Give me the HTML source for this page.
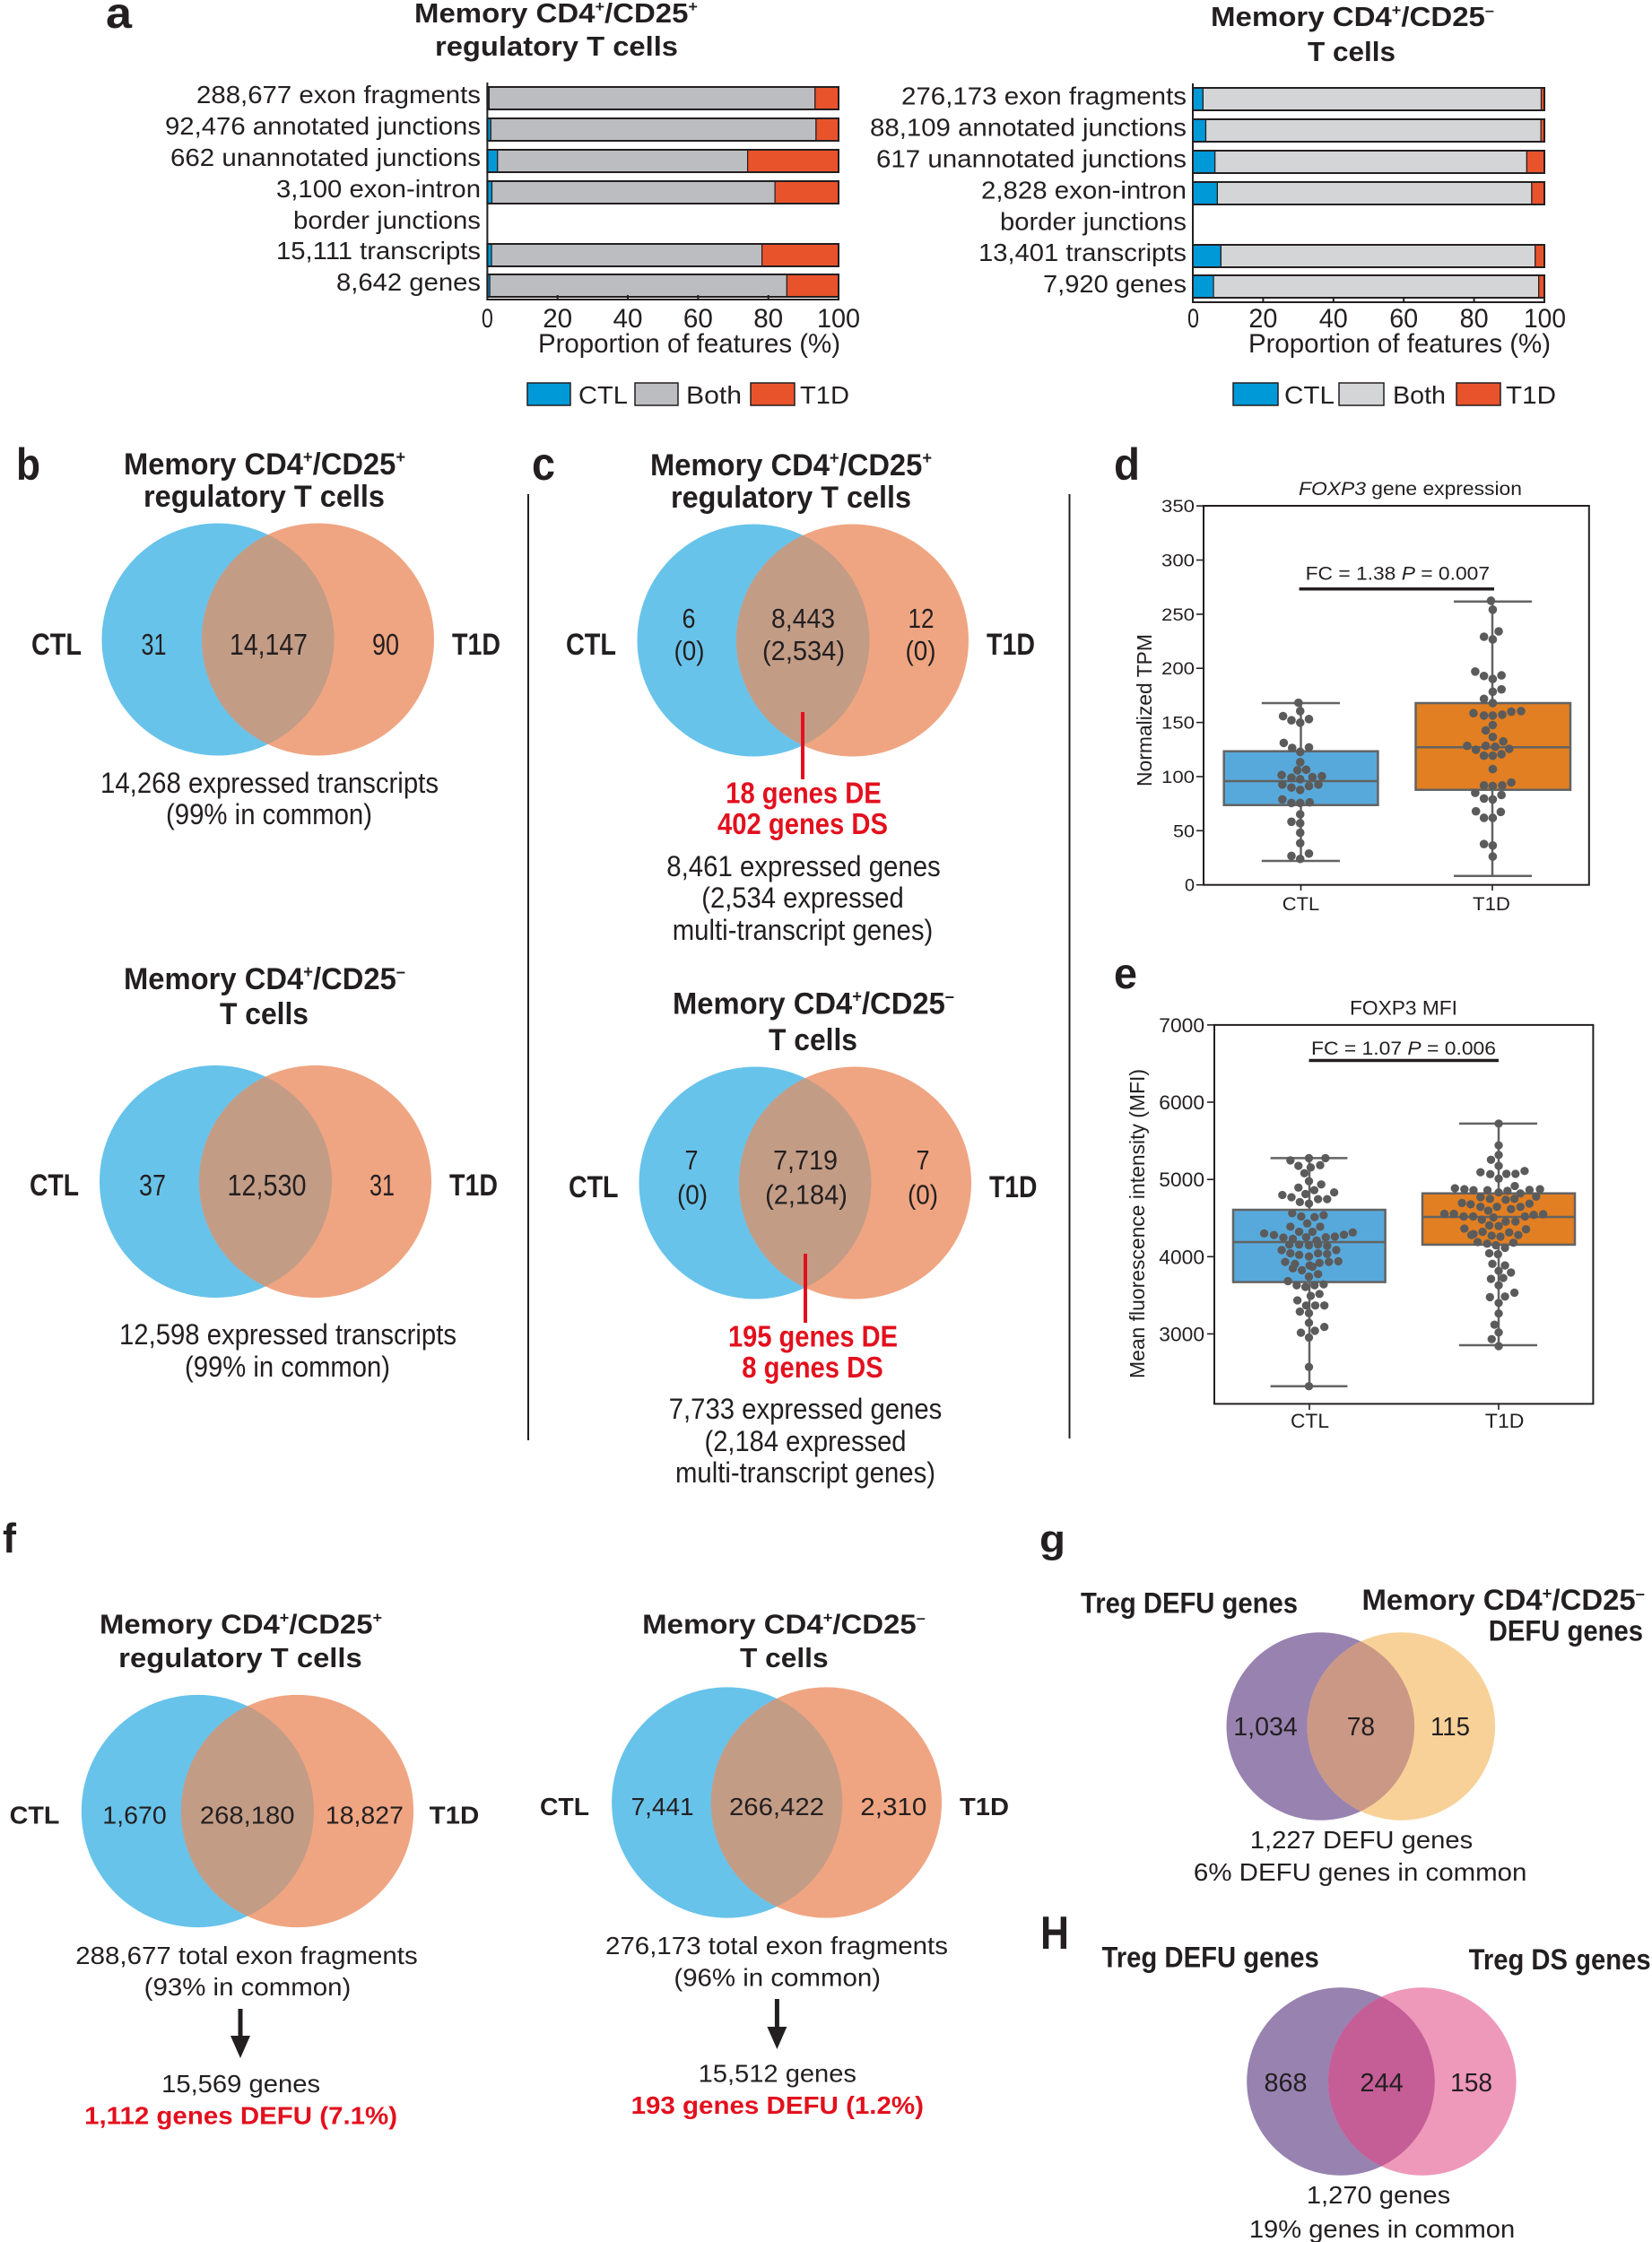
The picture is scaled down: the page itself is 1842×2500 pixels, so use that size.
<!DOCTYPE html>
<html><head><meta charset="utf-8"><style>
html,body{margin:0;padding:0;background:#fff;}
svg{display:block;}
text{font-family:"Liberation Sans",Arial,sans-serif;fill:#231F20;}
.b{font-weight:bold;}
.red{fill:#E3101E;font-weight:bold;}
</style></head><body>
<svg width="1842" height="2500" viewBox="0 0 1842 2500" xmlns="http://www.w3.org/2000/svg">
<rect width="1842" height="2500" fill="#fff"/>
<defs>
<clipPath id="cb1"><circle cx="243" cy="713" r="129.5"/></clipPath>
<clipPath id="cb2"><circle cx="240.5" cy="1317.5" r="129.5"/></clipPath>
<clipPath id="cc1"><circle cx="840" cy="714" r="129.5"/></clipPath>
<clipPath id="cc2"><circle cx="842" cy="1319" r="129.5"/></clipPath>
<clipPath id="cf1"><circle cx="220.4" cy="2019.5" r="129.6"/></clipPath>
<clipPath id="cf2"><circle cx="810.7" cy="2010" r="128.6"/></clipPath>
<clipPath id="cg"><circle cx="1472.3" cy="1925" r="104.8"/></clipPath>
<clipPath id="ch"><circle cx="1495" cy="2321" r="104.8"/></clipPath>
</defs>

<!-- ================= PANEL A ================= -->
<text class="b" x="118" y="31" font-size="48" textLength="29" lengthAdjust="spacingAndGlyphs">a</text>
<text class="b" x="620" y="25" text-anchor="middle" font-size="31" textLength="316" lengthAdjust="spacingAndGlyphs">Memory CD4<tspan font-size="17" dy="-12">+</tspan><tspan dy="12">/CD25</tspan><tspan font-size="17" dy="-12">+</tspan></text>
<text class="b" x="620.5" y="62" text-anchor="middle" font-size="31" textLength="271" lengthAdjust="spacingAndGlyphs">regulatory T cells</text>

<g font-size="28">
<text x="536" y="115" text-anchor="end" textLength="317" lengthAdjust="spacingAndGlyphs">288,677 exon fragments</text>
<text x="536" y="150" text-anchor="end" textLength="352" lengthAdjust="spacingAndGlyphs">92,476 annotated junctions</text>
<text x="536" y="185" text-anchor="end" textLength="346" lengthAdjust="spacingAndGlyphs">662 unannotated junctions</text>
<text x="536" y="220" text-anchor="end" textLength="228" lengthAdjust="spacingAndGlyphs">3,100 exon-intron</text>
<text x="536" y="255" text-anchor="end" textLength="209" lengthAdjust="spacingAndGlyphs">border junctions</text>
<text x="536" y="289" text-anchor="end" textLength="228" lengthAdjust="spacingAndGlyphs">15,111 transcripts</text>
<text x="536" y="324" text-anchor="end" textLength="161" lengthAdjust="spacingAndGlyphs">8,642 genes</text>
</g>

<!-- left bars -->
<g stroke="#231F20" stroke-width="1.2">
<rect x="543.4" y="97" width="1.8" height="25" fill="#0099D8"/><rect x="545.4" y="97" width="363.4" height="25" fill="#BCBDC0"/><rect x="908.8" y="97" width="26.2" height="25" fill="#E8532B"/>
<rect x="543.4" y="132" width="3.9" height="25" fill="#0099D8"/><rect x="547.3" y="132" width="362.6" height="25" fill="#BCBDC0"/><rect x="909.9" y="132" width="25.1" height="25" fill="#E8532B"/>
<rect x="543.4" y="167" width="11.4" height="25" fill="#0099D8"/><rect x="554.8" y="167" width="278.8" height="25" fill="#BCBDC0"/><rect x="833.6" y="167" width="101.4" height="25" fill="#E8532B"/>
<rect x="543.4" y="202" width="5.1" height="25" fill="#0099D8"/><rect x="548.5" y="202" width="315.6" height="25" fill="#BCBDC0"/><rect x="864.1" y="202" width="70.9" height="25" fill="#E8532B"/>
<rect x="543.4" y="272" width="4.7" height="25" fill="#0099D8"/><rect x="548.1" y="272" width="301.5" height="25" fill="#BCBDC0"/><rect x="849.6" y="272" width="85.4" height="25" fill="#E8532B"/>
<rect x="543.4" y="306" width="2.7" height="25" fill="#0099D8"/><rect x="546.1" y="306" width="331.3" height="25" fill="#BCBDC0"/><rect x="877.4" y="306" width="57.6" height="25" fill="#E8532B"/>
</g>
<g fill="none" stroke="#231F20" stroke-width="2">
<rect x="543.4" y="97" width="391.6" height="25"/><rect x="543.4" y="132" width="391.6" height="25"/><rect x="543.4" y="167" width="391.6" height="25"/><rect x="543.4" y="202" width="391.6" height="25"/><rect x="543.4" y="272" width="391.6" height="25"/><rect x="543.4" y="306" width="391.6" height="25"/>
<line x1="543.4" y1="92" x2="543.4" y2="335"/>
<line x1="542.4" y1="334" x2="936" y2="334"/>
<line x1="621.7" y1="334" x2="621.7" y2="329"/><line x1="700" y1="334" x2="700" y2="329"/><line x1="778.4" y1="334" x2="778.4" y2="329"/><line x1="856.7" y1="334" x2="856.7" y2="329"/><line x1="935" y1="334" x2="935" y2="329"/>
</g>
<g font-size="30" text-anchor="middle">
<text x="543.4" y="365" textLength="13" lengthAdjust="spacingAndGlyphs">0</text>
<text x="621.7" y="365" textLength="33" lengthAdjust="spacingAndGlyphs">20</text>
<text x="700" y="365" textLength="33" lengthAdjust="spacingAndGlyphs">40</text>
<text x="778.4" y="365" textLength="33" lengthAdjust="spacingAndGlyphs">60</text>
<text x="856.7" y="365" textLength="33" lengthAdjust="spacingAndGlyphs">80</text>
<text x="935" y="365" textLength="48" lengthAdjust="spacingAndGlyphs">100</text>
<text x="768.5" y="393" textLength="337" lengthAdjust="spacingAndGlyphs">Proportion of features (%)</text>
</g>
<g stroke="#231F20" stroke-width="1.5">
<rect x="588" y="427" width="48" height="25" fill="#0099D8"/>
<rect x="708" y="427" width="48" height="25" fill="#BCBDC0"/>
<rect x="837" y="427" width="49" height="25" fill="#E8532B"/>
</g>
<g font-size="28">
<text x="645" y="450" textLength="55" lengthAdjust="spacingAndGlyphs">CTL</text>
<text x="765" y="450" textLength="62" lengthAdjust="spacingAndGlyphs">Both</text>
<text x="892" y="450" textLength="55" lengthAdjust="spacingAndGlyphs">T1D</text>
</g>

<!-- right panel a -->
<text class="b" x="1508" y="29" text-anchor="middle" font-size="31" textLength="316" lengthAdjust="spacingAndGlyphs">Memory CD4<tspan font-size="17" dy="-12">+</tspan><tspan dy="12">/CD25</tspan><tspan font-size="17" dy="-12">–</tspan></text>
<text class="b" x="1507" y="68" text-anchor="middle" font-size="31" textLength="98" lengthAdjust="spacingAndGlyphs">T cells</text>
<g font-size="28">
<text x="1323" y="116.5" text-anchor="end" textLength="318" lengthAdjust="spacingAndGlyphs">276,173 exon fragments</text>
<text x="1323" y="151.5" text-anchor="end" textLength="353" lengthAdjust="spacingAndGlyphs">88,109 annotated junctions</text>
<text x="1323" y="186.5" text-anchor="end" textLength="346" lengthAdjust="spacingAndGlyphs">617 unannotated junctions</text>
<text x="1323" y="221.5" text-anchor="end" textLength="229" lengthAdjust="spacingAndGlyphs">2,828 exon-intron</text>
<text x="1323" y="256.5" text-anchor="end" textLength="208" lengthAdjust="spacingAndGlyphs">border junctions</text>
<text x="1323" y="291" text-anchor="end" textLength="232" lengthAdjust="spacingAndGlyphs">13,401 transcripts</text>
<text x="1323" y="326" text-anchor="end" textLength="160" lengthAdjust="spacingAndGlyphs">7,920 genes</text>
</g>
<g stroke="#231F20" stroke-width="1.2">
<rect x="1330" y="98" width="11.4" height="25" fill="#0099D8"/><rect x="1341.4" y="98" width="377.1" height="25" fill="#D4D5D7"/><rect x="1718.5" y="98" width="3.5" height="25" fill="#E8532B"/>
<rect x="1330" y="133" width="14.5" height="25" fill="#0099D8"/><rect x="1344.5" y="133" width="373.6" height="25" fill="#D4D5D7"/><rect x="1718.1" y="133" width="3.9" height="25" fill="#E8532B"/>
<rect x="1330" y="168" width="24.7" height="25" fill="#0099D8"/><rect x="1354.7" y="168" width="347.7" height="25" fill="#D4D5D7"/><rect x="1702.4" y="168" width="19.6" height="25" fill="#E8532B"/>
<rect x="1330" y="203" width="27.4" height="25" fill="#0099D8"/><rect x="1357.4" y="203" width="350.5" height="25" fill="#D4D5D7"/><rect x="1707.9" y="203" width="14.1" height="25" fill="#E8532B"/>
<rect x="1330" y="273" width="31.4" height="25" fill="#0099D8"/><rect x="1361.4" y="273" width="350.4" height="25" fill="#D4D5D7"/><rect x="1711.8" y="273" width="10.2" height="25" fill="#E8532B"/>
<rect x="1330" y="307" width="23.1" height="25" fill="#0099D8"/><rect x="1353.1" y="307" width="362.6" height="25" fill="#D4D5D7"/><rect x="1715.7" y="307" width="6.3" height="25" fill="#E8532B"/>
</g>
<g fill="none" stroke="#231F20" stroke-width="2">
<rect x="1330" y="98" width="392" height="25"/><rect x="1330" y="133" width="392" height="25"/><rect x="1330" y="168" width="392" height="25"/><rect x="1330" y="203" width="392" height="25"/><rect x="1330" y="273" width="392" height="25"/><rect x="1330" y="307" width="392" height="25"/>
<line x1="1330" y1="93" x2="1330" y2="338"/>
<line x1="1329" y1="337" x2="1723" y2="337"/>
<line x1="1408.4" y1="337" x2="1408.4" y2="332"/><line x1="1486.8" y1="337" x2="1486.8" y2="332"/><line x1="1565.2" y1="337" x2="1565.2" y2="332"/><line x1="1643.6" y1="337" x2="1643.6" y2="332"/><line x1="1722" y1="337" x2="1722" y2="332"/>
</g>
<g font-size="30" text-anchor="middle">
<text x="1330.5" y="365" textLength="13" lengthAdjust="spacingAndGlyphs">0</text>
<text x="1408.4" y="365" textLength="32" lengthAdjust="spacingAndGlyphs">20</text>
<text x="1486.8" y="365" textLength="32" lengthAdjust="spacingAndGlyphs">40</text>
<text x="1565.2" y="365" textLength="32" lengthAdjust="spacingAndGlyphs">60</text>
<text x="1643.6" y="365" textLength="32" lengthAdjust="spacingAndGlyphs">80</text>
<text x="1722.5" y="365" textLength="47" lengthAdjust="spacingAndGlyphs">100</text>
<text x="1560.5" y="393" textLength="337" lengthAdjust="spacingAndGlyphs">Proportion of features (%)</text>
</g>
<g stroke="#231F20" stroke-width="1.5">
<rect x="1375" y="427" width="50" height="25" fill="#0099D8"/>
<rect x="1493" y="427" width="50" height="25" fill="#D4D5D7"/>
<rect x="1624" y="427" width="49" height="25" fill="#E8532B"/>
</g>
<g font-size="28">
<text x="1432" y="450" textLength="56" lengthAdjust="spacingAndGlyphs">CTL</text>
<text x="1553" y="450" textLength="59" lengthAdjust="spacingAndGlyphs">Both</text>
<text x="1679" y="450" textLength="56" lengthAdjust="spacingAndGlyphs">T1D</text>
</g>

<!-- ================= PANEL B ================= -->
<text class="b" x="18" y="535" font-size="50" textLength="27" lengthAdjust="spacingAndGlyphs">b</text>
<text class="b" x="295" y="529" text-anchor="middle" font-size="34" textLength="314" lengthAdjust="spacingAndGlyphs">Memory CD4<tspan font-size="19" dy="-13">+</tspan><tspan dy="13">/CD25</tspan><tspan font-size="19" dy="-13">+</tspan></text>
<text class="b" x="294.5" y="565" text-anchor="middle" font-size="34" textLength="269" lengthAdjust="spacingAndGlyphs">regulatory T cells</text>
<circle cx="243" cy="713" r="129.5" fill="#68C3EA"/>
<circle cx="354.5" cy="713" r="129.5" fill="#EFA582"/>
<circle cx="354.5" cy="713" r="129.5" fill="#C39C86" clip-path="url(#cb1)"/>
<text class="b" x="35" y="730" font-size="34" textLength="56" lengthAdjust="spacingAndGlyphs">CTL</text>
<text class="b" x="504" y="730" font-size="34" textLength="54" lengthAdjust="spacingAndGlyphs">T1D</text>
<g font-size="33" text-anchor="middle">
<text x="171.5" y="730" textLength="28" lengthAdjust="spacingAndGlyphs">31</text>
<text x="299.5" y="730" textLength="87" lengthAdjust="spacingAndGlyphs">14,147</text>
<text x="430" y="730" textLength="30" lengthAdjust="spacingAndGlyphs">90</text>
</g>
<g font-size="32" text-anchor="middle">
<text x="300.5" y="884" textLength="377" lengthAdjust="spacingAndGlyphs">14,268 expressed transcripts</text>
<text x="300" y="919" textLength="230" lengthAdjust="spacingAndGlyphs">(99% in common)</text>
</g>

<text class="b" x="295" y="1103" text-anchor="middle" font-size="34" textLength="314" lengthAdjust="spacingAndGlyphs">Memory CD4<tspan font-size="19" dy="-13">+</tspan><tspan dy="13">/CD25</tspan><tspan font-size="19" dy="-13">–</tspan></text>
<text class="b" x="294.5" y="1142" text-anchor="middle" font-size="34" textLength="99" lengthAdjust="spacingAndGlyphs">T cells</text>
<circle cx="240.5" cy="1317.5" r="129.5" fill="#68C3EA"/>
<circle cx="351.5" cy="1317.5" r="129.5" fill="#EFA582"/>
<circle cx="351.5" cy="1317.5" r="129.5" fill="#C39C86" clip-path="url(#cb2)"/>
<text class="b" x="33" y="1333" font-size="34" textLength="55" lengthAdjust="spacingAndGlyphs">CTL</text>
<text class="b" x="501" y="1333" font-size="34" textLength="54" lengthAdjust="spacingAndGlyphs">T1D</text>
<g font-size="33" text-anchor="middle">
<text x="170" y="1333" textLength="30" lengthAdjust="spacingAndGlyphs">37</text>
<text x="297.5" y="1333" textLength="88" lengthAdjust="spacingAndGlyphs">12,530</text>
<text x="426" y="1333" textLength="28" lengthAdjust="spacingAndGlyphs">31</text>
</g>
<g font-size="32" text-anchor="middle">
<text x="321" y="1499" textLength="376" lengthAdjust="spacingAndGlyphs">12,598 expressed transcripts</text>
<text x="320.5" y="1535" textLength="229" lengthAdjust="spacingAndGlyphs">(99% in common)</text>
</g>

<!-- dividers -->
<line x1="589" y1="551" x2="589" y2="1606" stroke="#231F20" stroke-width="2"/>
<line x1="1192.5" y1="551" x2="1192.5" y2="1604" stroke="#231F20" stroke-width="2"/>

<!-- ================= PANEL C ================= -->
<text class="b" x="593" y="535" font-size="52" textLength="26" lengthAdjust="spacingAndGlyphs">c</text>
<text class="b" x="882" y="530" text-anchor="middle" font-size="34" textLength="314" lengthAdjust="spacingAndGlyphs">Memory CD4<tspan font-size="19" dy="-13">+</tspan><tspan dy="13">/CD25</tspan><tspan font-size="19" dy="-13">+</tspan></text>
<text class="b" x="882" y="566" text-anchor="middle" font-size="34" textLength="268" lengthAdjust="spacingAndGlyphs">regulatory T cells</text>
<circle cx="840" cy="714" r="129.5" fill="#68C3EA"/>
<circle cx="950.5" cy="714" r="129.5" fill="#EFA582"/>
<circle cx="950.5" cy="714" r="129.5" fill="#C39C86" clip-path="url(#cc1)"/>
<text class="b" x="631" y="730" font-size="34" textLength="56" lengthAdjust="spacingAndGlyphs">CTL</text>
<text class="b" x="1100" y="730" font-size="34" textLength="54" lengthAdjust="spacingAndGlyphs">T1D</text>
<g font-size="31" text-anchor="middle">
<text x="768" y="700" textLength="15" lengthAdjust="spacingAndGlyphs">6</text>
<text x="768.5" y="736" textLength="34" lengthAdjust="spacingAndGlyphs">(0)</text>
<text x="895.5" y="700" textLength="71" lengthAdjust="spacingAndGlyphs">8,443</text>
<text x="896" y="736" textLength="92" lengthAdjust="spacingAndGlyphs">(2,534)</text>
<text x="1027" y="700" textLength="29" lengthAdjust="spacingAndGlyphs">12</text>
<text x="1026.5" y="736" textLength="34" lengthAdjust="spacingAndGlyphs">(0)</text>
</g>
<line x1="895" y1="794" x2="895" y2="869" stroke="#E3101E" stroke-width="4"/>
<g font-size="33" text-anchor="middle">
<text class="red" x="896" y="895.5" textLength="173.5" lengthAdjust="spacingAndGlyphs">18 genes DE</text>
<text class="red" x="895" y="930" textLength="190" lengthAdjust="spacingAndGlyphs">402 genes DS</text>
</g>
<g font-size="32" text-anchor="middle">
<text x="896" y="977" textLength="305.5" lengthAdjust="spacingAndGlyphs">8,461 expressed genes</text>
<text x="895" y="1012" textLength="225.5" lengthAdjust="spacingAndGlyphs">(2,534 expressed</text>
<text x="895" y="1048" textLength="290.6" lengthAdjust="spacingAndGlyphs">multi-transcript genes)</text>
</g>

<text class="b" x="907" y="1130.5" text-anchor="middle" font-size="34" textLength="314" lengthAdjust="spacingAndGlyphs">Memory CD4<tspan font-size="19" dy="-13">+</tspan><tspan dy="13">/CD25</tspan><tspan font-size="19" dy="-13">–</tspan></text>
<text class="b" x="906.5" y="1171" text-anchor="middle" font-size="34" textLength="99" lengthAdjust="spacingAndGlyphs">T cells</text>
<circle cx="842" cy="1319" r="129.5" fill="#68C3EA"/>
<circle cx="953.5" cy="1319" r="129.5" fill="#EFA582"/>
<circle cx="953.5" cy="1319" r="129.5" fill="#C39C86" clip-path="url(#cc2)"/>
<text class="b" x="634" y="1335" font-size="34" textLength="55.5" lengthAdjust="spacingAndGlyphs">CTL</text>
<text class="b" x="1103" y="1335" font-size="34" textLength="53.5" lengthAdjust="spacingAndGlyphs">T1D</text>
<g font-size="31" text-anchor="middle">
<text x="771" y="1304" textLength="15" lengthAdjust="spacingAndGlyphs">7</text>
<text x="772" y="1342.5" textLength="34" lengthAdjust="spacingAndGlyphs">(0)</text>
<text x="898" y="1304" textLength="72" lengthAdjust="spacingAndGlyphs">7,719</text>
<text x="899" y="1342.5" textLength="91.7" lengthAdjust="spacingAndGlyphs">(2,184)</text>
<text x="1029" y="1304" textLength="15" lengthAdjust="spacingAndGlyphs">7</text>
<text x="1029" y="1342.5" textLength="34" lengthAdjust="spacingAndGlyphs">(0)</text>
</g>
<line x1="898" y1="1398" x2="898" y2="1475" stroke="#E3101E" stroke-width="4"/>
<g font-size="33" text-anchor="middle">
<text class="red" x="906.5" y="1501.7" textLength="189" lengthAdjust="spacingAndGlyphs">195 genes DE</text>
<text class="red" x="906" y="1536" textLength="157.5" lengthAdjust="spacingAndGlyphs">8 genes DS</text>
</g>
<g font-size="32" text-anchor="middle">
<text x="898" y="1582" textLength="304.5" lengthAdjust="spacingAndGlyphs">7,733 expressed genes</text>
<text x="898" y="1618" textLength="225" lengthAdjust="spacingAndGlyphs">(2,184 expressed</text>
<text x="898" y="1653" textLength="290" lengthAdjust="spacingAndGlyphs">multi-transcript genes)</text>
</g>

<!-- ================= PANEL D ================= -->
<text class="b" x="1242" y="535" font-size="50" textLength="29" lengthAdjust="spacingAndGlyphs">d</text>
<text x="1572.5" y="552" text-anchor="middle" font-size="21" textLength="249" lengthAdjust="spacingAndGlyphs"><tspan font-style="italic">FOXP3</tspan> gene expression</text>
<g stroke="#231F20" stroke-width="1.6">
<line x1="1334" y1="986.7" x2="1342" y2="986.7"/><line x1="1334" y1="926.3" x2="1342" y2="926.3"/><line x1="1334" y1="866" x2="1342" y2="866"/><line x1="1334" y1="805.6" x2="1342" y2="805.6"/><line x1="1334" y1="745.2" x2="1342" y2="745.2"/><line x1="1334" y1="684.9" x2="1342" y2="684.9"/><line x1="1334" y1="624.5" x2="1342" y2="624.5"/><line x1="1334" y1="564.1" x2="1342" y2="564.1"/>
<line x1="1450.5" y1="986.7" x2="1450.5" y2="993"/><line x1="1664" y1="986.7" x2="1664" y2="993"/>
</g>
<g font-size="19.5" text-anchor="end">
<text x="1332" y="993.7" textLength="11" lengthAdjust="spacingAndGlyphs">0</text>
<text x="1332" y="933.3" textLength="24" lengthAdjust="spacingAndGlyphs">50</text>
<text x="1332" y="873" textLength="37" lengthAdjust="spacingAndGlyphs">100</text>
<text x="1332" y="812.6" textLength="37" lengthAdjust="spacingAndGlyphs">150</text>
<text x="1332" y="752.2" textLength="37" lengthAdjust="spacingAndGlyphs">200</text>
<text x="1332" y="691.9" textLength="37" lengthAdjust="spacingAndGlyphs">250</text>
<text x="1332" y="631.5" textLength="37" lengthAdjust="spacingAndGlyphs">300</text>
<text x="1332" y="571.1" textLength="37" lengthAdjust="spacingAndGlyphs">350</text>
</g>
<text transform="translate(1284,792) rotate(-90)" text-anchor="middle" font-size="23" textLength="170" lengthAdjust="spacingAndGlyphs">Normalized TPM</text>
<g font-size="21" text-anchor="middle">
<text x="1450.5" y="1015" textLength="41.4" lengthAdjust="spacingAndGlyphs">CTL</text>
<text x="1663" y="1015" textLength="42" lengthAdjust="spacingAndGlyphs">T1D</text>
</g>
<g stroke="#636363" stroke-width="2.5">
<rect x="1364.7" y="837.7" width="171.7" height="60" fill="#58A9DB"/>
<line x1="1364.7" y1="871" x2="1536.4" y2="871"/>
<line x1="1450.5" y1="784" x2="1450.5" y2="837.7"/><line x1="1450.5" y1="897.7" x2="1450.5" y2="960"/>
<line x1="1406.8" y1="784" x2="1494" y2="784"/><line x1="1406.8" y1="960" x2="1494" y2="960"/>
<rect x="1578.5" y="784" width="172.5" height="96.7" fill="#E17F22"/>
<line x1="1578.5" y1="833.3" x2="1751" y2="833.3"/>
<line x1="1664" y1="670.7" x2="1664" y2="784"/><line x1="1664" y1="880.7" x2="1664" y2="976.7"/>
<line x1="1621" y1="670.7" x2="1708" y2="670.7"/><line x1="1621" y1="976.7" x2="1708" y2="976.7"/>
</g>
<g transform="translate(1230,510) scale(0.39031,0.33167)" fill="#5B5B5B">
<ellipse cx="558" cy="825" rx="12.3" ry="14.5"/><ellipse cx="563" cy="853" rx="12.3" ry="14.5"/><ellipse cx="514" cy="870" rx="12.3" ry="14.5"/><ellipse cx="538" cy="884" rx="12.3" ry="14.5"/><ellipse cx="588" cy="880" rx="12.3" ry="14.5"/><ellipse cx="563" cy="892" rx="12.3" ry="14.5"/><ellipse cx="516" cy="960" rx="12.3" ry="14.5"/><ellipse cx="540" cy="977" rx="12.3" ry="14.5"/><ellipse cx="588" cy="975" rx="12.3" ry="14.5"/><ellipse cx="563" cy="990" rx="12.3" ry="14.5"/><ellipse cx="563" cy="1025" rx="12.3" ry="14.5"/><ellipse cx="555" cy="1052" rx="12.3" ry="14.5"/><ellipse cx="580" cy="1050" rx="12.3" ry="14.5"/><ellipse cx="510" cy="1068" rx="12.3" ry="14.5"/><ellipse cx="538" cy="1077" rx="12.3" ry="14.5"/><ellipse cx="563" cy="1082" rx="12.3" ry="14.5"/><ellipse cx="598" cy="1075" rx="12.3" ry="14.5"/><ellipse cx="625" cy="1072" rx="12.3" ry="14.5"/><ellipse cx="512" cy="1100" rx="12.3" ry="14.5"/><ellipse cx="538" cy="1110" rx="12.3" ry="14.5"/><ellipse cx="563" cy="1118" rx="12.3" ry="14.5"/><ellipse cx="588" cy="1105" rx="12.3" ry="14.5"/><ellipse cx="615" cy="1100" rx="12.3" ry="14.5"/><ellipse cx="512" cy="1150" rx="12.3" ry="14.5"/><ellipse cx="538" cy="1162" rx="12.3" ry="14.5"/><ellipse cx="563" cy="1162" rx="12.3" ry="14.5"/><ellipse cx="590" cy="1160" rx="12.3" ry="14.5"/><ellipse cx="563" cy="1200" rx="12.3" ry="14.5"/><ellipse cx="538" cy="1225" rx="12.3" ry="14.5"/><ellipse cx="563" cy="1230" rx="12.3" ry="14.5"/><ellipse cx="563" cy="1262" rx="12.3" ry="14.5"/><ellipse cx="563" cy="1297" rx="12.3" ry="14.5"/><ellipse cx="538" cy="1340" rx="12.3" ry="14.5"/><ellipse cx="588" cy="1332" rx="12.3" ry="14.5"/><ellipse cx="563" cy="1350" rx="12.3" ry="14.5"/>
<ellipse cx="1108" cy="482" rx="12.3" ry="14.5"/><ellipse cx="1113" cy="512" rx="12.3" ry="14.5"/><ellipse cx="1130" cy="585" rx="12.3" ry="14.5"/><ellipse cx="1088" cy="603" rx="12.3" ry="14.5"/><ellipse cx="1113" cy="612" rx="12.3" ry="14.5"/><ellipse cx="1063" cy="720" rx="12.3" ry="14.5"/><ellipse cx="1088" cy="735" rx="12.3" ry="14.5"/><ellipse cx="1113" cy="745" rx="12.3" ry="14.5"/><ellipse cx="1138" cy="733" rx="12.3" ry="14.5"/><ellipse cx="1113" cy="788" rx="12.3" ry="14.5"/><ellipse cx="1138" cy="780" rx="12.3" ry="14.5"/><ellipse cx="1088" cy="812" rx="12.3" ry="14.5"/><ellipse cx="1113" cy="826" rx="12.3" ry="14.5"/><ellipse cx="1058" cy="860" rx="12.3" ry="14.5"/><ellipse cx="1088" cy="868" rx="12.3" ry="14.5"/><ellipse cx="1113" cy="868" rx="12.3" ry="14.5"/><ellipse cx="1140" cy="865" rx="12.3" ry="14.5"/><ellipse cx="1166" cy="855" rx="12.3" ry="14.5"/><ellipse cx="1194" cy="853" rx="12.3" ry="14.5"/><ellipse cx="1113" cy="900" rx="12.3" ry="14.5"/><ellipse cx="1093" cy="918" rx="12.3" ry="14.5"/><ellipse cx="1113" cy="940" rx="12.3" ry="14.5"/><ellipse cx="1040" cy="970" rx="12.3" ry="14.5"/><ellipse cx="1065" cy="983" rx="12.3" ry="14.5"/><ellipse cx="1093" cy="970" rx="12.3" ry="14.5"/><ellipse cx="1120" cy="973" rx="12.3" ry="14.5"/><ellipse cx="1143" cy="955" rx="12.3" ry="14.5"/><ellipse cx="1160" cy="980" rx="12.3" ry="14.5"/><ellipse cx="1088" cy="1003" rx="12.3" ry="14.5"/><ellipse cx="1113" cy="1003" rx="12.3" ry="14.5"/><ellipse cx="1138" cy="998" rx="12.3" ry="14.5"/><ellipse cx="1113" cy="1048" rx="12.3" ry="14.5"/><ellipse cx="1088" cy="1103" rx="12.3" ry="14.5"/><ellipse cx="1113" cy="1105" rx="12.3" ry="14.5"/><ellipse cx="1140" cy="1103" rx="12.3" ry="14.5"/><ellipse cx="1166" cy="1093" rx="12.3" ry="14.5"/><ellipse cx="1063" cy="1128" rx="12.3" ry="14.5"/><ellipse cx="1088" cy="1147" rx="12.3" ry="14.5"/><ellipse cx="1113" cy="1150" rx="12.3" ry="14.5"/><ellipse cx="1138" cy="1135" rx="12.3" ry="14.5"/><ellipse cx="1065" cy="1190" rx="12.3" ry="14.5"/><ellipse cx="1088" cy="1212" rx="12.3" ry="14.5"/><ellipse cx="1113" cy="1212" rx="12.3" ry="14.5"/><ellipse cx="1136" cy="1192" rx="12.3" ry="14.5"/><ellipse cx="1088" cy="1300" rx="12.3" ry="14.5"/><ellipse cx="1113" cy="1305" rx="12.3" ry="14.5"/><ellipse cx="1113" cy="1342" rx="12.3" ry="14.5"/>
</g>
<rect x="1342" y="564" width="429.8" height="422.7" fill="none" stroke="#231F20" stroke-width="2"/>
<line x1="1448.6" y1="656.7" x2="1666" y2="656.7" stroke="#231F20" stroke-width="3.5"/>
<text x="1558.3" y="646.7" text-anchor="middle" font-size="21" textLength="205.4" lengthAdjust="spacingAndGlyphs">FC = 1.38 <tspan font-style="italic">P</tspan> = 0.007</text>

<!-- ================= PANEL E ================= -->
<text class="b" x="1242" y="1102" font-size="48" textLength="26" lengthAdjust="spacingAndGlyphs">e</text>
<text x="1565" y="1131.4" text-anchor="middle" font-size="22" textLength="120" lengthAdjust="spacingAndGlyphs">FOXP3 MFI</text>
<g stroke="#231F20" stroke-width="1.6">
<line x1="1346" y1="1142.9" x2="1354" y2="1142.9"/><line x1="1346" y1="1229" x2="1354" y2="1229"/><line x1="1346" y1="1315.2" x2="1354" y2="1315.2"/><line x1="1346" y1="1401.3" x2="1354" y2="1401.3"/><line x1="1346" y1="1487.4" x2="1354" y2="1487.4"/>
<line x1="1460" y1="1565.4" x2="1460" y2="1572"/><line x1="1671" y1="1565.4" x2="1671" y2="1572"/>
</g>
<g font-size="22" text-anchor="end">
<text x="1343" y="1150.9" textLength="50.7" lengthAdjust="spacingAndGlyphs">7000</text>
<text x="1343" y="1237" textLength="50.7" lengthAdjust="spacingAndGlyphs">6000</text>
<text x="1343" y="1323.2" textLength="50.7" lengthAdjust="spacingAndGlyphs">5000</text>
<text x="1343" y="1409.3" textLength="50.7" lengthAdjust="spacingAndGlyphs">4000</text>
<text x="1343" y="1495.4" textLength="50.7" lengthAdjust="spacingAndGlyphs">3000</text>
</g>
<text transform="translate(1276,1364.5) rotate(-90)" text-anchor="middle" font-size="23" textLength="345" lengthAdjust="spacingAndGlyphs">Mean fluorescence intensity (MFI)</text>
<g font-size="22" text-anchor="middle">
<text x="1460.5" y="1592" textLength="43" lengthAdjust="spacingAndGlyphs">CTL</text>
<text x="1677.7" y="1592" textLength="43.5" lengthAdjust="spacingAndGlyphs">T1D</text>
</g>
<g stroke="#636363" stroke-width="2.5">
<rect x="1375" y="1349" width="169.6" height="80.6" fill="#58A9DB"/>
<line x1="1375" y1="1385" x2="1544.6" y2="1385"/>
<line x1="1460" y1="1291.4" x2="1460" y2="1349"/><line x1="1460" y1="1429.6" x2="1460" y2="1545.7"/>
<line x1="1416.6" y1="1291.4" x2="1502.4" y2="1291.4"/><line x1="1416.6" y1="1545.7" x2="1502.4" y2="1545.7"/>
<rect x="1586" y="1330.7" width="170" height="57.2" fill="#E17F22"/>
<line x1="1586" y1="1357" x2="1756" y2="1357"/>
<line x1="1671" y1="1252.9" x2="1671" y2="1330.7"/><line x1="1671" y1="1387.9" x2="1671" y2="1500"/>
<line x1="1627" y1="1252.9" x2="1714" y2="1252.9"/><line x1="1627" y1="1500" x2="1714" y2="1500"/>
</g>
<g transform="translate(1230,1060) scale(0.39031,0.35714)" fill="#5B5B5B">
<ellipse cx="535" cy="655" rx="12" ry="13"/><ellipse cx="588" cy="648" rx="12" ry="13"/><ellipse cx="635" cy="648" rx="12" ry="13"/><ellipse cx="558" cy="672" rx="12" ry="13"/><ellipse cx="593" cy="677" rx="12" ry="13"/><ellipse cx="620" cy="670" rx="12" ry="13"/><ellipse cx="575" cy="695" rx="12" ry="13"/><ellipse cx="588" cy="720" rx="12" ry="13"/><ellipse cx="623" cy="730" rx="12" ry="13"/><ellipse cx="558" cy="740" rx="12" ry="13"/><ellipse cx="603" cy="748" rx="12" ry="13"/><ellipse cx="660" cy="755" rx="12" ry="13"/><ellipse cx="512" cy="763" rx="12" ry="13"/><ellipse cx="538" cy="770" rx="12" ry="13"/><ellipse cx="578" cy="760" rx="12" ry="13"/><ellipse cx="614" cy="776" rx="12" ry="13"/><ellipse cx="640" cy="776" rx="12" ry="13"/><ellipse cx="562" cy="785" rx="12" ry="13"/><ellipse cx="588" cy="790" rx="12" ry="13"/><ellipse cx="540" cy="820" rx="12" ry="13"/><ellipse cx="566" cy="830" rx="12" ry="13"/><ellipse cx="604" cy="832" rx="12" ry="13"/><ellipse cx="630" cy="826" rx="12" ry="13"/><ellipse cx="583" cy="852" rx="12" ry="13"/><ellipse cx="535" cy="862" rx="12" ry="13"/><ellipse cx="620" cy="862" rx="12" ry="13"/><ellipse cx="460" cy="883" rx="12" ry="13"/><ellipse cx="488" cy="888" rx="12" ry="13"/><ellipse cx="515" cy="896" rx="12" ry="13"/><ellipse cx="542" cy="900" rx="12" ry="13"/><ellipse cx="560" cy="878" rx="12" ry="13"/><ellipse cx="598" cy="878" rx="12" ry="13"/><ellipse cx="580" cy="895" rx="12" ry="13"/><ellipse cx="610" cy="905" rx="12" ry="13"/><ellipse cx="636" cy="895" rx="12" ry="13"/><ellipse cx="662" cy="893" rx="12" ry="13"/><ellipse cx="688" cy="887" rx="12" ry="13"/><ellipse cx="713" cy="880" rx="12" ry="13"/><ellipse cx="532" cy="918" rx="12" ry="13"/><ellipse cx="560" cy="918" rx="12" ry="13"/><ellipse cx="588" cy="920" rx="12" ry="13"/><ellipse cx="614" cy="918" rx="12" ry="13"/><ellipse cx="640" cy="922" rx="12" ry="13"/><ellipse cx="510" cy="935" rx="12" ry="13"/><ellipse cx="535" cy="945" rx="12" ry="13"/><ellipse cx="560" cy="950" rx="12" ry="13"/><ellipse cx="588" cy="955" rx="12" ry="13"/><ellipse cx="614" cy="945" rx="12" ry="13"/><ellipse cx="640" cy="947" rx="12" ry="13"/><ellipse cx="666" cy="935" rx="12" ry="13"/><ellipse cx="520" cy="972" rx="12" ry="13"/><ellipse cx="548" cy="978" rx="12" ry="13"/><ellipse cx="590" cy="983" rx="12" ry="13"/><ellipse cx="618" cy="975" rx="12" ry="13"/><ellipse cx="645" cy="972" rx="12" ry="13"/><ellipse cx="672" cy="970" rx="12" ry="13"/><ellipse cx="542" cy="992" rx="12" ry="13"/><ellipse cx="568" cy="998" rx="12" ry="13"/><ellipse cx="598" cy="987" rx="12" ry="13"/><ellipse cx="588" cy="1018" rx="12" ry="13"/><ellipse cx="614" cy="1010" rx="12" ry="13"/><ellipse cx="528" cy="1032" rx="12" ry="13"/><ellipse cx="553" cy="1045" rx="12" ry="13"/><ellipse cx="578" cy="1050" rx="12" ry="13"/><ellipse cx="604" cy="1045" rx="12" ry="13"/><ellipse cx="630" cy="1042" rx="12" ry="13"/><ellipse cx="593" cy="1078" rx="12" ry="13"/><ellipse cx="618" cy="1072" rx="12" ry="13"/><ellipse cx="555" cy="1092" rx="12" ry="13"/><ellipse cx="580" cy="1108" rx="12" ry="13"/><ellipse cx="606" cy="1108" rx="12" ry="13"/><ellipse cx="632" cy="1108" rx="12" ry="13"/><ellipse cx="562" cy="1127" rx="12" ry="13"/><ellipse cx="588" cy="1132" rx="12" ry="13"/><ellipse cx="588" cy="1162" rx="12" ry="13"/><ellipse cx="632" cy="1175" rx="12" ry="13"/><ellipse cx="565" cy="1193" rx="12" ry="13"/><ellipse cx="605" cy="1187" rx="12" ry="13"/><ellipse cx="588" cy="1208" rx="12" ry="13"/><ellipse cx="588" cy="1300" rx="12" ry="13"/><ellipse cx="588" cy="1360" rx="12" ry="13"/>
<ellipse cx="1130" cy="540" rx="12" ry="13"/><ellipse cx="1130" cy="608" rx="12" ry="13"/><ellipse cx="1130" cy="638" rx="12" ry="13"/><ellipse cx="1108" cy="653" rx="12" ry="13"/><ellipse cx="1130" cy="672" rx="12" ry="13"/><ellipse cx="1078" cy="692" rx="12" ry="13"/><ellipse cx="1106" cy="698" rx="12" ry="13"/><ellipse cx="1130" cy="712" rx="12" ry="13"/><ellipse cx="1152" cy="697" rx="12" ry="13"/><ellipse cx="1178" cy="697" rx="12" ry="13"/><ellipse cx="1204" cy="688" rx="12" ry="13"/><ellipse cx="1176" cy="735" rx="12" ry="13"/><ellipse cx="1005" cy="742" rx="12" ry="13"/><ellipse cx="1032" cy="745" rx="12" ry="13"/><ellipse cx="1058" cy="748" rx="12" ry="13"/><ellipse cx="1098" cy="748" rx="12" ry="13"/><ellipse cx="1130" cy="755" rx="12" ry="13"/><ellipse cx="1155" cy="750" rx="12" ry="13"/><ellipse cx="1192" cy="758" rx="12" ry="13"/><ellipse cx="1218" cy="747" rx="12" ry="13"/><ellipse cx="1248" cy="745" rx="12" ry="13"/><ellipse cx="1078" cy="770" rx="12" ry="13"/><ellipse cx="1105" cy="775" rx="12" ry="13"/><ellipse cx="1150" cy="778" rx="12" ry="13"/><ellipse cx="1175" cy="775" rx="12" ry="13"/><ellipse cx="1237" cy="768" rx="12" ry="13"/><ellipse cx="1025" cy="788" rx="12" ry="13"/><ellipse cx="1050" cy="792" rx="12" ry="13"/><ellipse cx="1078" cy="800" rx="12" ry="13"/><ellipse cx="1100" cy="812" rx="12" ry="13"/><ellipse cx="1125" cy="800" rx="12" ry="13"/><ellipse cx="1165" cy="807" rx="12" ry="13"/><ellipse cx="1192" cy="800" rx="12" ry="13"/><ellipse cx="1218" cy="790" rx="12" ry="13"/><ellipse cx="975" cy="822" rx="12" ry="13"/><ellipse cx="1002" cy="822" rx="12" ry="13"/><ellipse cx="1030" cy="830" rx="12" ry="13"/><ellipse cx="1057" cy="830" rx="12" ry="13"/><ellipse cx="1082" cy="840" rx="12" ry="13"/><ellipse cx="1115" cy="833" rx="12" ry="13"/><ellipse cx="1150" cy="846" rx="12" ry="13"/><ellipse cx="1178" cy="846" rx="12" ry="13"/><ellipse cx="1205" cy="830" rx="12" ry="13"/><ellipse cx="1230" cy="825" rx="12" ry="13"/><ellipse cx="1257" cy="823" rx="12" ry="13"/><ellipse cx="1103" cy="858" rx="12" ry="13"/><ellipse cx="1130" cy="860" rx="12" ry="13"/><ellipse cx="1032" cy="868" rx="12" ry="13"/><ellipse cx="1058" cy="885" rx="12" ry="13"/><ellipse cx="1084" cy="878" rx="12" ry="13"/><ellipse cx="1208" cy="870" rx="12" ry="13"/><ellipse cx="1110" cy="890" rx="12" ry="13"/><ellipse cx="1135" cy="893" rx="12" ry="13"/><ellipse cx="1160" cy="880" rx="12" ry="13"/><ellipse cx="1186" cy="888" rx="12" ry="13"/><ellipse cx="1052" cy="888" rx="12" ry="13"/><ellipse cx="1070" cy="910" rx="12" ry="13"/><ellipse cx="1097" cy="915" rx="12" ry="13"/><ellipse cx="1122" cy="920" rx="12" ry="13"/><ellipse cx="1148" cy="928" rx="12" ry="13"/><ellipse cx="1172" cy="912" rx="12" ry="13"/><ellipse cx="1103" cy="945" rx="12" ry="13"/><ellipse cx="1128" cy="948" rx="12" ry="13"/><ellipse cx="1112" cy="978" rx="12" ry="13"/><ellipse cx="1148" cy="983" rx="12" ry="13"/><ellipse cx="1130" cy="1000" rx="12" ry="13"/><ellipse cx="1165" cy="1005" rx="12" ry="13"/><ellipse cx="1108" cy="1025" rx="12" ry="13"/><ellipse cx="1143" cy="1022" rx="12" ry="13"/><ellipse cx="1130" cy="1045" rx="12" ry="13"/><ellipse cx="1105" cy="1082" rx="12" ry="13"/><ellipse cx="1148" cy="1080" rx="12" ry="13"/><ellipse cx="1175" cy="1068" rx="12" ry="13"/><ellipse cx="1130" cy="1100" rx="12" ry="13"/><ellipse cx="1130" cy="1133" rx="12" ry="13"/><ellipse cx="1118" cy="1168" rx="12" ry="13"/><ellipse cx="1130" cy="1192" rx="12" ry="13"/><ellipse cx="1110" cy="1213" rx="12" ry="13"/><ellipse cx="1130" cy="1235" rx="12" ry="13"/>
</g>
<rect x="1354" y="1142.9" width="422.4" height="422.5" fill="none" stroke="#231F20" stroke-width="2"/>
<line x1="1459.5" y1="1182.5" x2="1671" y2="1182.5" stroke="#231F20" stroke-width="3.5"/>
<text x="1565" y="1176" text-anchor="middle" font-size="21" textLength="206" lengthAdjust="spacingAndGlyphs">FC = 1.07 <tspan font-style="italic">P</tspan> = 0.006</text>

<!-- ================= PANEL F ================= -->
<text class="b" x="3" y="1731" font-size="46" textLength="15" lengthAdjust="spacingAndGlyphs">f</text>
<text class="b" x="268.5" y="1821.7" text-anchor="middle" font-size="31" textLength="315" lengthAdjust="spacingAndGlyphs">Memory CD4<tspan font-size="17" dy="-12">+</tspan><tspan dy="12">/CD25</tspan><tspan font-size="17" dy="-12">+</tspan></text>
<text class="b" x="268" y="1858.8" text-anchor="middle" font-size="31" textLength="271.6" lengthAdjust="spacingAndGlyphs">regulatory T cells</text>
<circle cx="220.4" cy="2019.5" r="129.6" fill="#68C3EA"/>
<circle cx="331.5" cy="2019.5" r="129.6" fill="#EFA582"/>
<circle cx="331.5" cy="2019.5" r="129.6" fill="#C39C86" clip-path="url(#cf1)"/>
<text class="b" x="10.7" y="2033.7" font-size="28" textLength="55.7" lengthAdjust="spacingAndGlyphs">CTL</text>
<text class="b" x="478.6" y="2033.7" font-size="28" textLength="55.7" lengthAdjust="spacingAndGlyphs">T1D</text>
<g font-size="28" text-anchor="middle">
<text x="150" y="2033.7" textLength="71.4" lengthAdjust="spacingAndGlyphs">1,670</text>
<text x="275.7" y="2033.7" textLength="105.7" lengthAdjust="spacingAndGlyphs">268,180</text>
<text x="406.4" y="2033.7" textLength="87" lengthAdjust="spacingAndGlyphs">18,827</text>
<text x="275" y="2190" textLength="381.4" lengthAdjust="spacingAndGlyphs">288,677 total exon fragments</text>
<text x="276" y="2224.8" textLength="230.7" lengthAdjust="spacingAndGlyphs">(93% in common)</text>
<text x="268.6" y="2333" textLength="177" lengthAdjust="spacingAndGlyphs">15,569 genes</text>
<text class="red" x="268.6" y="2368.6" textLength="349" lengthAdjust="spacingAndGlyphs">1,112 genes DEFU (7.1%)</text>
</g>
<line x1="268" y1="2240" x2="268" y2="2272" stroke="#231F20" stroke-width="5"/>
<polygon points="257,2270 279,2270 268,2295" fill="#231F20"/>

<text class="b" x="874" y="1821.7" text-anchor="middle" font-size="31" textLength="315.6" lengthAdjust="spacingAndGlyphs">Memory CD4<tspan font-size="17" dy="-12">+</tspan><tspan dy="12">/CD25</tspan><tspan font-size="17" dy="-12">–</tspan></text>
<text class="b" x="874.3" y="1858.8" text-anchor="middle" font-size="31" textLength="98.6" lengthAdjust="spacingAndGlyphs">T cells</text>
<circle cx="810.7" cy="2010" r="128.6" fill="#68C3EA"/>
<circle cx="921.4" cy="2010" r="128.6" fill="#EFA582"/>
<circle cx="921.4" cy="2010" r="128.6" fill="#C39C86" clip-path="url(#cf2)"/>
<text class="b" x="602" y="2024" font-size="28" textLength="55" lengthAdjust="spacingAndGlyphs">CTL</text>
<text class="b" x="1070" y="2024" font-size="28" textLength="55" lengthAdjust="spacingAndGlyphs">T1D</text>
<g font-size="28" text-anchor="middle">
<text x="738.6" y="2024" textLength="70" lengthAdjust="spacingAndGlyphs">7,441</text>
<text x="866" y="2024" textLength="106" lengthAdjust="spacingAndGlyphs">266,422</text>
<text x="996.3" y="2024" textLength="74" lengthAdjust="spacingAndGlyphs">2,310</text>
<text x="866" y="2178.8" textLength="382" lengthAdjust="spacingAndGlyphs">276,173 total exon fragments</text>
<text x="866.7" y="2214.6" textLength="230.6" lengthAdjust="spacingAndGlyphs">(96% in common)</text>
<text x="866.8" y="2321.7" textLength="176.4" lengthAdjust="spacingAndGlyphs">15,512 genes</text>
<text class="red" x="866.8" y="2357" textLength="326.4" lengthAdjust="spacingAndGlyphs">193 genes DEFU (1.2%)</text>
</g>
<line x1="866.4" y1="2229" x2="866.4" y2="2263" stroke="#231F20" stroke-width="5"/>
<polygon points="855.4,2260 877.4,2260 866.4,2285" fill="#231F20"/>

<!-- ================= PANEL G ================= -->
<text class="b" x="1159" y="1731" font-size="44" textLength="29" lengthAdjust="spacingAndGlyphs">g</text>
<text class="b" x="1205" y="1798.5" font-size="32" textLength="242" lengthAdjust="spacingAndGlyphs">Treg DEFU genes</text>
<text class="b" x="1518.5" y="1795" font-size="32" textLength="315.5" lengthAdjust="spacingAndGlyphs">Memory CD4<tspan font-size="18" dy="-12">+</tspan><tspan dy="12">/CD25</tspan><tspan font-size="18" dy="-12">–</tspan></text>
<text class="b" x="1832" y="1829.5" text-anchor="end" font-size="32" textLength="172.3" lengthAdjust="spacingAndGlyphs">DEFU genes</text>
<circle cx="1472.3" cy="1925" r="104.8" fill="#9882B0"/>
<circle cx="1562.3" cy="1925" r="104.8" fill="#F8D199"/>
<circle cx="1562.3" cy="1925" r="104.8" fill="#CB9886" clip-path="url(#cg)"/>
<g font-size="29" text-anchor="middle">
<text x="1411" y="1935" textLength="71.5" lengthAdjust="spacingAndGlyphs">1,034</text>
<text x="1517.4" y="1935" textLength="31.3" lengthAdjust="spacingAndGlyphs">78</text>
<text x="1617" y="1935" textLength="44" lengthAdjust="spacingAndGlyphs">115</text>
</g>
<g font-size="28" text-anchor="middle">
<text x="1518" y="2060.9" textLength="248.4" lengthAdjust="spacingAndGlyphs">1,227 DEFU genes</text>
<text x="1516.7" y="2097" textLength="371.5" lengthAdjust="spacingAndGlyphs">6% DEFU genes in common</text>
</g>

<!-- ================= PANEL H ================= -->
<text class="b" x="1160" y="2173" font-size="52" textLength="32" lengthAdjust="spacingAndGlyphs">H</text>
<text class="b" x="1228.5" y="2193.6" font-size="32" textLength="242.3" lengthAdjust="spacingAndGlyphs">Treg DEFU genes</text>
<text class="b" x="1637.6" y="2196" font-size="32" textLength="203" lengthAdjust="spacingAndGlyphs">Treg DS genes</text>
<circle cx="1495" cy="2321" r="104.8" fill="#9882B0"/>
<circle cx="1585.8" cy="2321" r="104.8" fill="#EE98BA"/>
<circle cx="1585.8" cy="2321" r="104.8" fill="#C55D97" clip-path="url(#ch)"/>
<g font-size="29" text-anchor="middle">
<text x="1433.5" y="2332" textLength="48" lengthAdjust="spacingAndGlyphs">868</text>
<text x="1540.6" y="2332" textLength="48.5" lengthAdjust="spacingAndGlyphs">244</text>
<text x="1640.6" y="2332" textLength="47" lengthAdjust="spacingAndGlyphs">158</text>
</g>
<g font-size="28" text-anchor="middle">
<text x="1537" y="2457" textLength="160.3" lengthAdjust="spacingAndGlyphs">1,270 genes</text>
<text x="1541" y="2495" textLength="296.3" lengthAdjust="spacingAndGlyphs">19% genes in common</text>
</g>
</svg>
</body></html>
